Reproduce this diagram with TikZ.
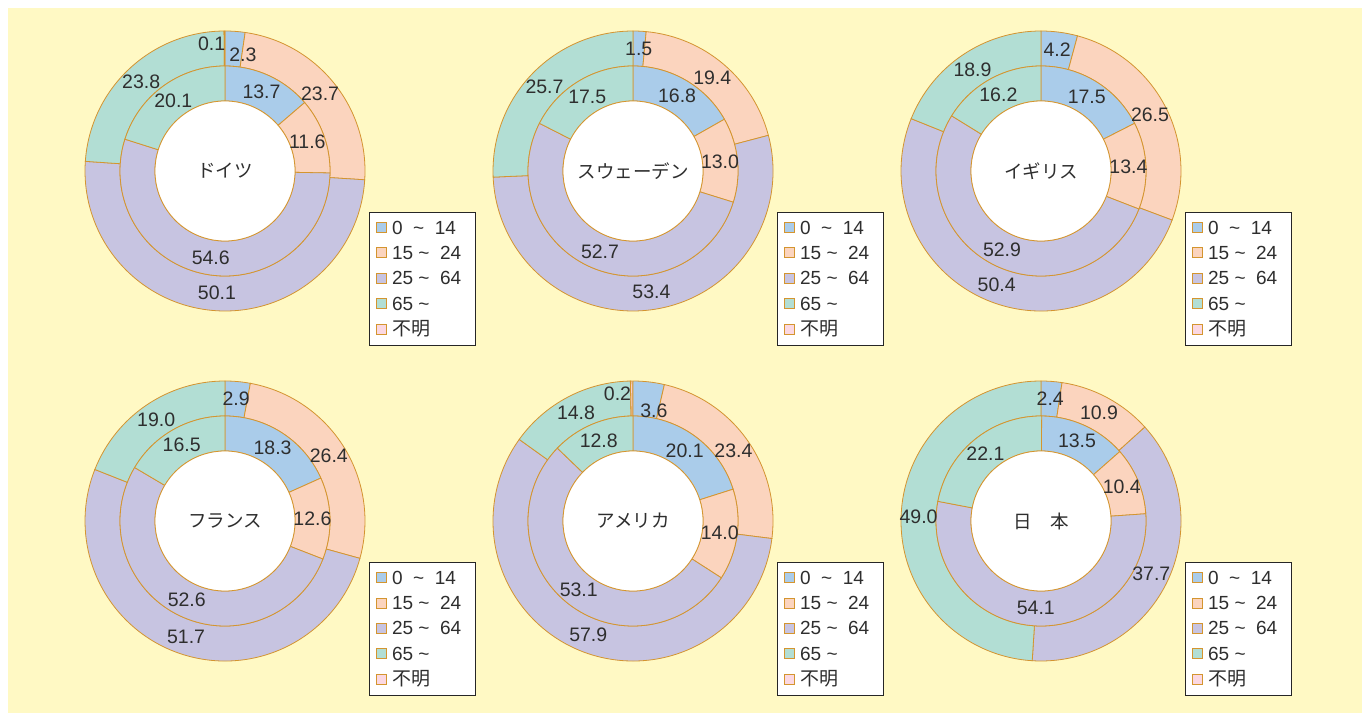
\documentclass[tikz,border=0pt]{standalone}
\usepackage{fontspec}
\setmainfont{Liberation Sans}
\newfontfamily\jpfont{Noto Sans CJK JP}
\usetikzlibrary{calc}

\definecolor{bgyellow}{HTML}{FFF9C4}
\definecolor{ringedge}{HTML}{D4952F}
\definecolor{kid}{HTML}{AACCEA}
\definecolor{youth}{HTML}{FBD4BE}
\definecolor{adult}{HTML}{C7C4E1}
\definecolor{elder}{HTML}{B2DED4}
\definecolor{unknown}{HTML}{FBD8E2}
\definecolor{txtgray}{HTML}{2E2E2E}

\tikzset{
  ringslice/.style={draw=ringedge, line width=0.8pt},
  valtext/.style={text=txtgray, inner sep=0pt, font=\fontsize{19.5}{21}\selectfont},
  cname/.style={text=txtgray, inner sep=0pt, font=\jpfont\fontsize{18.5}{22}\selectfont},
  legbox/.style={draw=black!85, fill=white, line width=1pt, minimum width=106pt, minimum height=133pt, inner sep=0pt},
  swatch/.style={draw=ringedge, line width=0.8pt, minimum size=10pt, inner sep=0pt},
  legtext/.style={text=txtgray, anchor=west, inner sep=0pt, font=\fontsize{19}{21}\selectfont}
}

% one ring: center, inner radius, outer radius, list value/colour/dx/dy
\newcommand{\ringpart}[4]{%
  \xdef\runsum{0}%
  \foreach \v/\c/\dx/\dy in {#4}{%
    \pgfmathsetmacro\angA{90-3.6*\runsum}%
    \pgfmathsetmacro\angB{90-3.6*(\runsum+\v)}%
    \filldraw[ringslice,fill=\c] ($(#1)+(\angA:#3)$) arc[start angle=\angA,end angle=\angB,radius=#3]
      -- ($(#1)+(\angB:#2)$) arc[start angle=\angB,end angle=\angA,radius=#2] -- cycle;
    \pgfmathsetmacro\runsum{\runsum+\v}\xdef\runsum{\runsum}%
  }%
}
\newcommand{\ringvalues}[4]{%
  \xdef\runsum{0}%
  \foreach \v/\c/\dx/\dy [count=\i] in {#3}{%
    \pgfmathsetmacro\angM{90-3.6*(\runsum+\v/2)}%
    \node[valtext,xshift=\dx pt,yshift=\dy pt] (#4-\i) at ($(#1)+(\angM:#2)$) {\v};
    \pgfmathsetmacro\runsum{\runsum+\v}\xdef\runsum{\runsum}%
  }%
}
% name, title, inner list, outer list
\newcommand{\donut}[4]{%
  \fill[unknown] (#1) circle[radius=140];
  \ringpart{#1}{105}{140}{#4}
  \ringpart{#1}{70}{105}{#3}
  \filldraw[ringslice,fill=white] (#1) circle[radius=70];
  \ringvalues{#1}{122.5}{#4}{#1-out}
  \ringvalues{#1}{87.5}{#3}{#1-in}
  \node[cname] (#1-name) at (#1) {#2};
  \node[legbox] (#1-leg) at ($(#1)+(197,-108.2)$) {};
  \foreach \c/\t [count=\i] in {kid/{0\ \ \textasciitilde\ \ 14}, youth/{15\ \textasciitilde\ \ 24},
      adult/{25\ \textasciitilde\ \ 64}, elder/{65\ \textasciitilde}, unknown/{\jpfont 不明}}{%
    \node[swatch,fill=\c] (#1-sw\i) at ($(#1-leg.north west)+(13,{-15.3-25.4*(\i-1)})$) {};
    \node[legtext] (#1-lt\i) at ($(#1-sw\i.east)+(5,0)$) {\t};
  }
}

\begin{document}
\begin{tikzpicture}[x=1pt,y=1pt]
  \useasboundingbox (0,0) rectangle (1362,713);
  \fill[bgyellow] (8,0) rectangle (1362,705);

  \coordinate (de) at (225,542);
  \coordinate (se) at (633,542);
  \coordinate (uk) at (1041,542);
  \coordinate (fr) at (225,192);
  \coordinate (us) at (633,192);
  \coordinate (jp) at (1041,192);

  \donut{de}{ドイツ}
    {13.7/kid/0/0, 11.6/youth/0/0, 54.6/adult/0/0, 20.1/elder/0/0}
    {2.3/kid/9/-6, 23.7/youth/0/0, 50.1/adult/0/0, 23.8/elder/0/0, 0.1/unknown/-13/5}
  \donut{se}{スウェーデン}
    {16.8/kid/0/0, 13.0/youth/0/0, 52.7/adult/0/0, 17.5/elder/0/0}
    {1.5/kid/0/0, 19.4/youth/0/0, 53.4/adult/0/0, 25.7/elder/0/0}
  \donut{uk}{イギリス}
    {17.5/kid/0/0, 13.4/youth/0/0, 52.9/adult/0/0, 16.2/elder/0/0}
    {4.2/kid/0/0, 26.5/youth/0/0, 50.4/adult/0/0, 18.9/elder/0/0}
  \donut{fr}{フランス}
    {18.3/kid/0/0, 12.6/youth/0/0, 52.6/adult/0/0, 16.5/elder/0/0}
    {2.9/kid/0/0, 26.4/youth/0/0, 51.7/adult/0/0, 19.0/elder/0/0}
  \donut{us}{アメリカ}
    {20.1/kid/0/0, 14.0/youth/0/0, 53.1/adult/0/0, 12.8/elder/0/0}
    {3.6/kid/7/-11, 23.4/youth/0/0, 57.9/adult/0/0, 14.8/elder/0/0, 0.2/unknown/-14/5}
  \donut{jp}{日　本}
    {13.5/kid/0/0, 10.4/youth/0/0, 54.1/adult/0/0, 22.1/elder/0/0}
    {2.4/kid/0/0, 10.9/youth/0/0, 37.7/adult/0/0, 49.0/elder/0/0}
\end{tikzpicture}
\end{document}
